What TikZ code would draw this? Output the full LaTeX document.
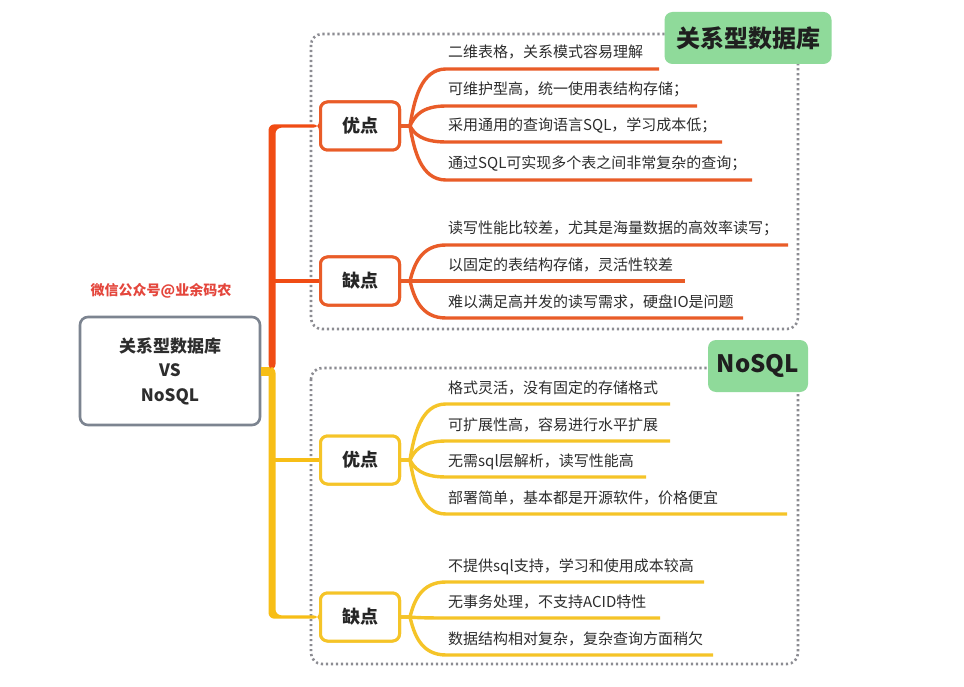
\documentclass[tikz,border=0pt]{standalone}
\usepackage{fontspec}
\setmainfont{Noto Sans CJK SC}
\definecolor{tred}{RGB}{240,76,20}
\definecolor{lred}{RGB}{233,92,40}
\definecolor{tyel}{RGB}{247,190,22}
\definecolor{lyel}{RGB}{245,196,40}
\definecolor{gbox}{RGB}{124,132,144}
\definecolor{dotc}{RGB}{140,140,146}
\definecolor{lgreen}{RGB}{143,218,154}
\definecolor{txt}{RGB}{45,45,45}
\definecolor{wm}{RGB}{228,70,60}
\tikzset{
  rootbox/.style={draw=gbox, line width=2.6pt, rounded corners=8pt, fill=white,
    minimum width=180pt, minimum height=108pt, align=center, text=txt,
    font=\fontsize{17}{24.5}\selectfont\bfseries},
  catbox/.style={draw=#1, line width=3pt, rounded corners=7pt, fill=white,
    minimum width=79pt, minimum height=48pt, text=black!85,
    font=\fontsize{18}{20}\selectfont\bfseries},
  leaf/.style={inner sep=0pt, text=txt, font=\fontsize{15}{18}\selectfont},
  fanline/.style={line width=3.4pt, draw=#1},
  armline/.style={line width=3.4pt, draw=#1},
  groupbox/.style={draw=dotc, line width=2.6pt, dash pattern=on 2.2pt off 2.8pt, rounded corners=11pt},
  greenlabel/.style={fill=lgreen, rounded corners=8pt, text=black!88, font=\fontsize{24}{26}\selectfont\bfseries}
}
\newcommand\fanout[4]{%
  \foreach \ly/\ex/\t in {#4} {
    \node[leaf, anchor=base west] (#1-\ly) at (448,\ly-11) {\t};
    \coordinate (#1-\ly-e) at (\ex,\ly);
    \draw[fanline=#2] (#1.east) -- (410,#3) .. controls (414,{#3+0.45*(\ly-#3)}) and (421,\ly) .. (446,\ly) -- (#1-\ly-e);
  }}
\begin{document}
\begin{tikzpicture}[x=1pt,y=-1pt]
\useasboundingbox (0,0) rectangle (964,687);
\fill[white] (0,0) rectangle (964,687);

% group frames
\draw[groupbox] (311,34) rectangle (798,329);
\draw[groupbox] (311,368) rectangle (798,664);

% root and watermark
\node[rootbox] (root) at (170,371) {关系型数据库\\VS\\NoSQL};
\node[text=wm, font=\fontsize{14}{16}\selectfont\bfseries] (wmark) at (161,291) {微信公众号@业余码农};

% category boxes (positions)
\node[catbox=lred] (rp) at (360,126) {优点};
\node[catbox=lred] (rn) at (360,281) {缺点};
\node[catbox=lyel] (yp) at (360,460) {优点};
\node[catbox=lyel] (yn) at (360,617) {缺点};

% trunk
\coordinate (j) at (272,371);
\draw[line width=9pt, draw=tyel] (root.east) -- (j);
\fill[tred, rounded corners=6pt] (268.5,370) -- (268.5,124.3) -- (rp.west |- 0,124.3) -- (rp.west |- 0,127.7) -- (275.5,127.7) -- (275.5,370) -- cycle;
\fill[tyel, rounded corners=6pt] (268.5,367) -- (268.5,618.7) -- (yn.west |- 0,618.7) -- (yn.west |- 0,615.3) -- (275.5,615.3) -- (275.5,367) -- cycle;
\draw[armline=tred] (272,281) -- (rn.west);
\draw[armline=tyel] (272,460) -- (yp.west);

% leaves
\fanout{rp}{lred}{126}{69/659/{二维表格，关系模式容易理解},106/697/{可维护型高，统一使用表结构存储；},142/722/{采用通用的查询语言SQL，学习成本低；},180/752/{通过SQL可实现多个表之间非常复杂的查询；}}
\fanout{rn}{lred}{281}{245/788/{读写性能比较差，尤其是海量数据的高效率读写；},281/685/{以固定的表结构存储，灵活性较差},318/743/{难以满足高并发的读写需求，硬盘IO是问题}}
\fanout{yp}{lyel}{460}{404/670/{格式灵活，没有固定的存储格式},441/670/{可扩展性高，容易进行水平扩展},477/646/{无需sql层解析，读写性能高},514/787/{部署简单，基本都是开源软件，价格便宜}}
\fanout{yn}{lyel}{617}{582/704/{不提供sql支持，学习和使用成本较高},618/660/{无事务处理，不支持ACID特性},655/713/{数据结构相对复杂，复杂查询方面稍欠}}

% boxes on top
\node[catbox=lred] at (rp) {优点};
\node[catbox=lred] at (rn) {缺点};
\node[catbox=lyel] at (yp) {优点};
\node[catbox=lyel] at (yn) {缺点};

% green labels
\node[greenlabel, minimum width=167pt, minimum height=52pt] (lab1) at (748,38) {关系型数据库};
\node[greenlabel, minimum width=100pt, minimum height=52pt] (lab2) at (758,366) {NoSQL};
\end{tikzpicture}
\end{document}
